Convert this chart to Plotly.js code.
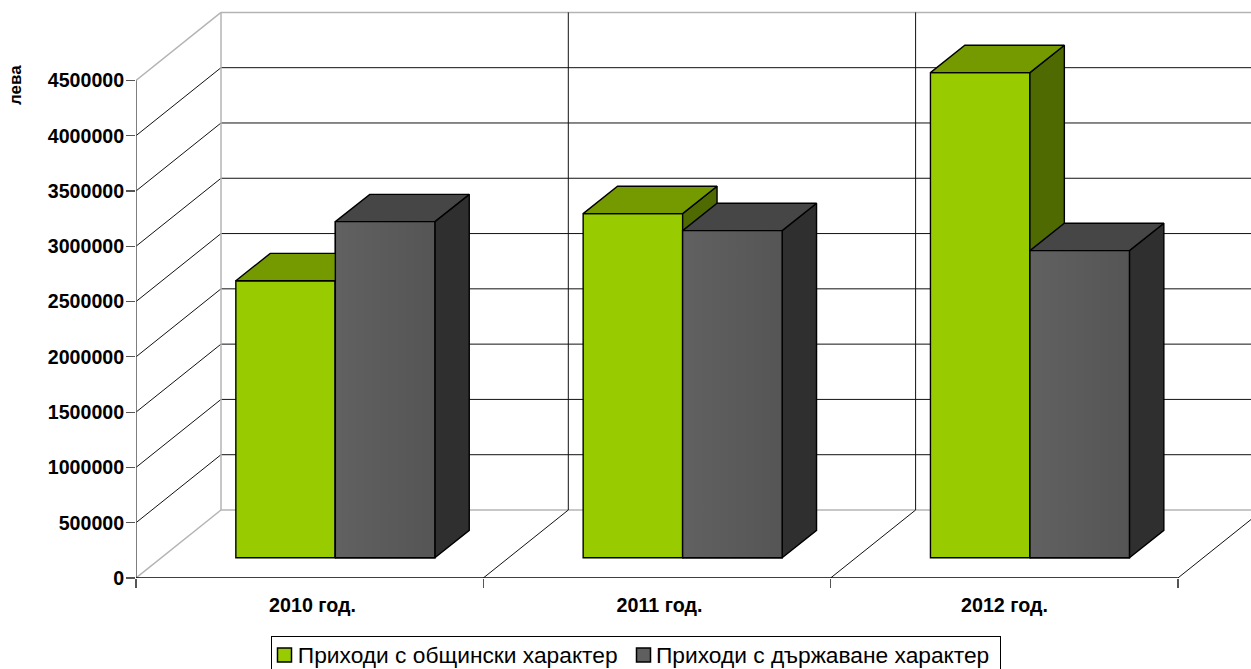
<!DOCTYPE html>
<html><head><meta charset="utf-8">
<script src="https://cdn.plot.ly/plotly-3.0.1.min.js"></script>
<style>html,body{margin:0;padding:0;background:#fff;overflow:hidden}</style>
</head><body><div id="chart" style="width:1251px;height:669px"></div>
<script>
const categories = ['2010 год.', '2011 год.', '2012 год.'];
const municipal = [2505000, 3112000, 4387000];
const state = [3039000, 2958000, 2777000];
const seriesNames = ['Приходи с общински характер', 'Приходи с държаване характер'];
const valueTicks = [0, 500000, 1000000, 1500000, 2000000, 2500000, 3000000, 3500000, 4000000, 4500000];
const yAxisLabel = 'лева';

// Oblique projection constants (axis units: categories, currency)
const unitX = 347.3, unitV = 500000 / 55.29;
const wallDX = 85 / unitX, wallDV = 68 * unitV;
const liftX = 25.7 / unitX, liftV = 20.3 * unitV;
const depthX = 34.4 / unitX, depthV = 27.3 * unitV;
const barW = 99.5 / unitX;
const yTop = 578 * unitV, xMax = 1115 / unitX;
const centers = categories.map((_, i) => i + 0.5);
const labelAt = [0.5082, 1.5074, 2.5006];
const font = 'Liberation Sans, Arial, sans-serif';

const line = (x0, v0, x1, v1, color, width) => ({type: 'line', layer: 'below', xref: 'x', yref: 'y',
  x0, y0: v0, x1, y1: v1, line: {color, width}});
const shapes = [];
const GREY = '#b4b4b4', BLK = '#111111';
const vMax = valueTicks[valueTicks.length - 1];
valueTicks.forEach(v => {
  const edge = v === 0 || v === vMax;
  shapes.push(line(wallDX, v + wallDV, xMax + 1, v + wallDV, edge ? GREY : BLK, edge ? 1.5 : 1));
  shapes.push(line(0, v, wallDX, v + wallDV, edge ? GREY : BLK, edge ? 1.5 : 1));
});
shapes.push(line(wallDX, wallDV, wallDX, vMax + wallDV, GREY, 1.5));
[1, 2].forEach(i => shapes.push(line(i + wallDX, wallDV, i + wallDX, vMax + wallDV, BLK, 1)));
[1, 2, 3].forEach(i => shapes.push(line(i, 0, i + wallDX, wallDV, BLK, 1)));
shapes.push(line(0, 0, 0, vMax, '#555555', 1.5));

function poly(xs, vs, color, gradient) {
  const t = {type: 'scatter', mode: 'lines', x: xs.concat(xs[0]), y: vs.concat(vs[0]), fill: 'toself',
    fillcolor: color, line: {color: '#000000', width: 1.4}, hoverinfo: 'skip', showlegend: false, cliponaxis: false};
  if (gradient) t.fillgradient = {type: 'horizontal', colorscale: [[0, gradient[0]], [1, gradient[1]]]};
  return t;
}
function barFaces(values, offset, sideColor, topColor) {
  return values.flatMap((v, i) => {
    const xl = centers[i] + liftX + offset, xr = xl + barW;
    const b = liftV, t = liftV + v;
    return [
      poly([xr, xr + depthX, xr + depthX, xr], [b, b + depthV, t + depthV, t], sideColor),
      poly([xl, xl + depthX, xr + depthX, xr], [t, t + depthV, t + depthV, t], topColor)
    ];
  });
}
const bar = (name, values, offset, color) => ({type: 'bar', name, x: centers, y: values, base: liftV,
  offset: liftX + offset, width: barW, marker: {color, line: {color: '#000000', width: 1.4}},
  hovertemplate: '%{x}: %{y}<extra></extra>'});

const traces = [
  bar(seriesNames[0], municipal, -barW, '#99cc00'),
  bar(seriesNames[1], state, 0, '#5f5f5f'),
  ...barFaces(municipal, -barW, '#4f6a00', '#749a00'),
  ...barFaces(state, 0, '#2f2f2f', '#464646'),
  ...state.map((v, i) => {
    const xl = centers[i] + liftX, xr = xl + barW, b = liftV, t = liftV + v;
    return poly([xl, xr, xr, xl], [b, b, t, t], '#5f5f5f', ['#616161', '#555555']);
  })
];

const layout = {
  width: 1251, height: 669, paper_bgcolor: '#ffffff', plot_bgcolor: 'rgba(0,0,0,0)',
  margin: {l: 136, r: 0, t: 0, b: 91},
  barmode: 'overlay', showlegend: true,
  font: {family: font, color: '#000000'},
  xaxis: {type: 'linear', range: [0, xMax], tickmode: 'array', tickvals: labelAt, ticktext: categories,
    ticks: '', ticklabelstandoff: 13, tickfont: {family: font, size: 19.7, weight: 'bold', color: '#000'},
    showgrid: false, zeroline: false, showline: false, fixedrange: true,
    minor: {tickmode: 'array', tickvals: [0, 1, 2, 3], ticks: 'outside', ticklen: 9, tickcolor: '#555555', tickwidth: 1.2, showgrid: false}},
  yaxis: {type: 'linear', range: [0, yTop], tickmode: 'array', tickvals: valueTicks,
    ticktext: valueTicks.map(String), ticks: 'outside', ticklen: 9, tickcolor: '#555555', tickwidth: 1.2,
    tickfont: {family: font, size: 19.6, weight: 'bold', color: '#000'}, ticklabelstandoff: -2,
    showgrid: false, zeroline: false, showline: false, fixedrange: true},
  shapes: shapes.concat([{type: 'line', layer: 'above', xref: 'x', yref: 'y', x0: 0, y0: 0, x1: 3, y1: 0, line: {color: '#000', width: 1.5}}]),
  annotations: [{xref: 'paper', yref: 'paper', x: -0.1076, y: 0.853, yanchor: 'middle', xanchor: 'center', text: yAxisLabel, textangle: -90,
    showarrow: false, font: {family: font, size: 17, weight: 'bold', color: '#000'}}],
  legend: {orientation: 'h', x: 0.5, xanchor: 'center', xref: 'container', y: 0, yanchor: 'bottom', yref: 'container',
    bgcolor: '#ffffff', bordercolor: '#000000', borderwidth: 1, font: {family: font, size: 22.75, color: '#000'},
    traceorder: 'normal', itemwidth: 30, itemclick: false, itemdoubleclick: false}
};
// Tighten the legend box: smaller swatch-to-text gap and a box that runs off the page bottom.
const legendBox = {x: 271, y: 636, w: 728.5, h: 60};
const legendItems = [{swatch: 13.5, text: 26.8}, {swatch: 372.5, text: 385}];
Plotly.newPlot('chart', traces, layout, {displayModeBar: false, staticPlot: true}).then(() => {
  const leg = document.querySelector('#chart .legend');
  if (!leg) return;
  leg.setAttribute('transform', `translate(${legendBox.x},${legendBox.y})`);
  const bg = leg.querySelector('rect.bg');
  bg.setAttribute('x', 0.5); bg.setAttribute('y', 0.5);
  bg.setAttribute('width', legendBox.w); bg.setAttribute('height', legendBox.h);
  const box = leg.querySelector('.scrollbox');
  box.removeAttribute('clip-path');
  box.setAttribute('transform', 'translate(0,0)');
  leg.querySelectorAll('.traces').forEach((g, i) => {
    const it = legendItems[i];
    g.setAttribute('transform', `translate(${it.swatch},19)`);
    g.querySelectorAll('.legendpoints path').forEach(p => {
      p.setAttribute('d', 'M7,7H-7V-7H7Z');
      p.setAttribute('transform', 'translate(0,0)');
      p.style.strokeWidth = '1.5px';
      p.style.stroke = '#000';
    });
    g.querySelectorAll('text, text tspan').forEach(t => {
      t.setAttribute('x', it.text - it.swatch);
      if (t.hasAttribute('y')) t.setAttribute('y', parseFloat(t.getAttribute('y')) - 1);
    });
  });
});
</script></body></html>
